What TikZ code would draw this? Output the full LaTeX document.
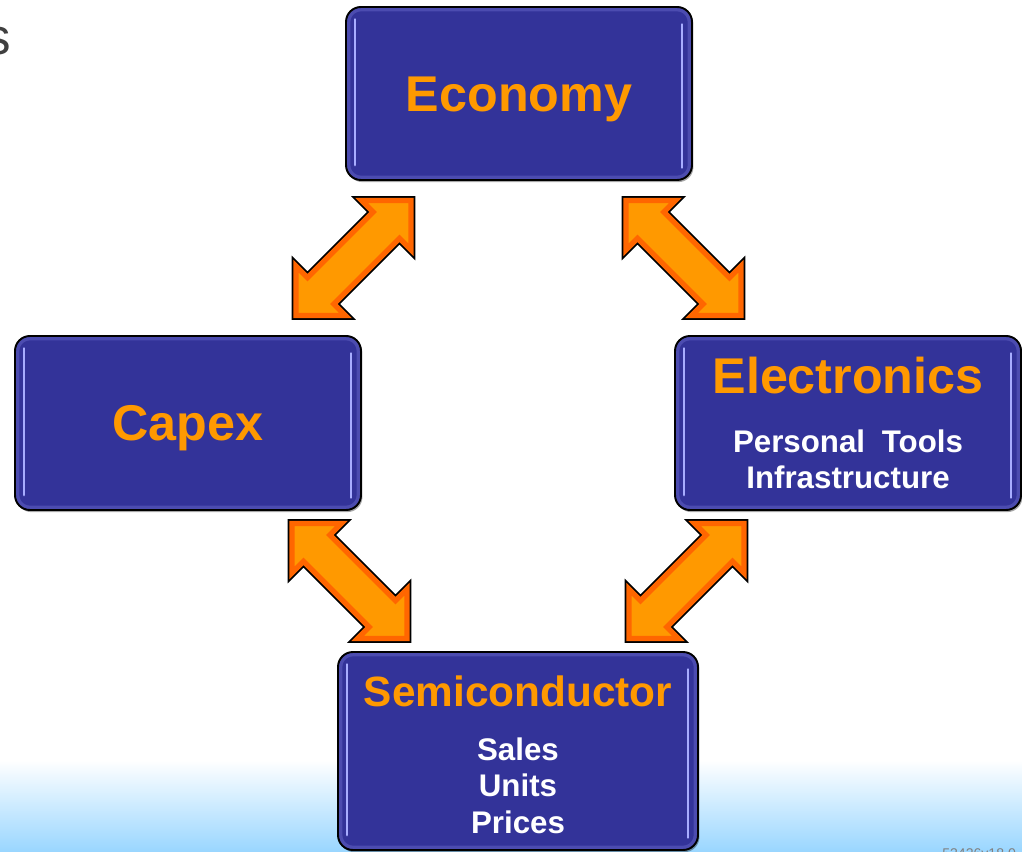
\documentclass[tikz,border=0pt]{standalone}
\usepackage{fontspec}
\setmainfont{Liberation Sans}
\usepackage{xcolor}
\definecolor{loop-box}{HTML}{333399}
\definecolor{loop-rim}{HTML}{4C4CB0}
\definecolor{loop-gloss}{HTML}{A8ADFF}
\definecolor{loop-title}{HTML}{FF9900}
\definecolor{loop-arrow}{HTML}{FF9900}
\definecolor{loop-arrow-edge}{HTML}{FF6600}
\definecolor{loop-fade}{HTML}{99D6FF}
\definecolor{loop-note}{HTML}{404040}
\usetikzlibrary{calc,shapes.arrows,shadows}

\newcommand\stagenote{\color{white}\fontsize{17.8}{20.7}\selectfont}

\tikzset{
  stage/.style={rounded corners=8.5pt, fill=loop-box, draw=black, line width=1.1pt,
    inner sep=0pt, text width=6.5cm, execute at begin node=\centering,
    font=\bfseries\fontsize{28.6}{34}\selectfont, text=loop-title,
    drop shadow={shadow xshift=0.8pt, shadow yshift=-1.2pt, opacity=0.35, fill=black},
    path picture={
      \draw[loop-rim, line width=5pt, rounded corners=8.5pt] (path picture bounding box.south west) rectangle (path picture bounding box.north east);
      \draw[loop-gloss, line width=1.6pt, line cap=round] ([xshift=0.18cm, yshift=-0.25cm]path picture bounding box.north west) -- ([xshift=0.18cm, yshift=0.3cm]path picture bounding box.south west);
      \draw[loop-gloss, line width=1.6pt, line cap=round] ([xshift=-0.2cm, yshift=-0.35cm]path picture bounding box.north east) -- ([xshift=-0.2cm, yshift=0.25cm]path picture bounding box.south east);
    }},
  link/.style={double arrow, double arrow head extend=0.325cm, double arrow tip angle=90,
    text height=0.32cm, text depth=0.32cm, minimum height=3.25cm, inner sep=0pt,
    fill=loop-arrow, draw=loop-arrow-edge, line width=3pt,
    preaction={draw=black, line width=5pt}}
}

\begin{document}
\begin{tikzpicture}

    % Background
    \fill[white] (0, 0) rectangle (20.44, -17.04);
    \useasboundingbox (0, 0) rectangle (20.44, -17.04);
    \shade[top color=white, bottom color=loop-fade] (0, -15.2) rectangle (20.44, -17.04);

    % Slide leftovers
    \node[anchor=base east, inner sep=0pt, text=loop-note, font=\fontsize{29}{34}\selectfont] (title-end) at (0.22, -1.1) {s};
    \node[anchor=north west, inner sep=0pt, text=gray, font=\fontsize{8}{9}\selectfont] (slide-code) at (18.84, -16.96) {53426v18.0};

    % Stages
    \node[stage, minimum width=6.92cm, minimum height=3.46cm] (eco) at (10.38, -1.87) {\rule{0pt}{26pt}Economy};
    \node[stage, minimum width=6.92cm, minimum height=3.48cm] (cap) at (3.76, -8.46) {\rule{0pt}{26pt}Capex};
    \node[stage, minimum width=6.92cm, minimum height=3.48cm] (ele) at (16.96, -8.46) {Electronics\\[13pt]{\stagenote \mbox{Personal Tools}\\Infrastructure\par}};
    \node[stage, minimum width=7.2cm, minimum height=3.96cm] (sem) at (10.36, -15.02) {{\fontsize{24.1}{29}\selectfont\rule{0pt}{21.6pt}Semiconductor}\\[10pt]{\stagenote Sales\\Units\\Prices\par}};

    % Links
    \node[link, rotate=45] (eco-cap) at ($(eco.south west)!0.5!(cap.north east)$) {};
    \node[link, rotate=-45] (eco-ele) at ($(eco.south east)!0.5!(ele.north west)$) {};
    \node[link, rotate=-45] (cap-sem) at ($(cap.south east)!0.5!(sem.north west)$) {};
    \node[link, rotate=45] (ele-sem) at ($(ele.south west)!0.5!(sem.north east)$) {};

\end{tikzpicture}
\end{document}
